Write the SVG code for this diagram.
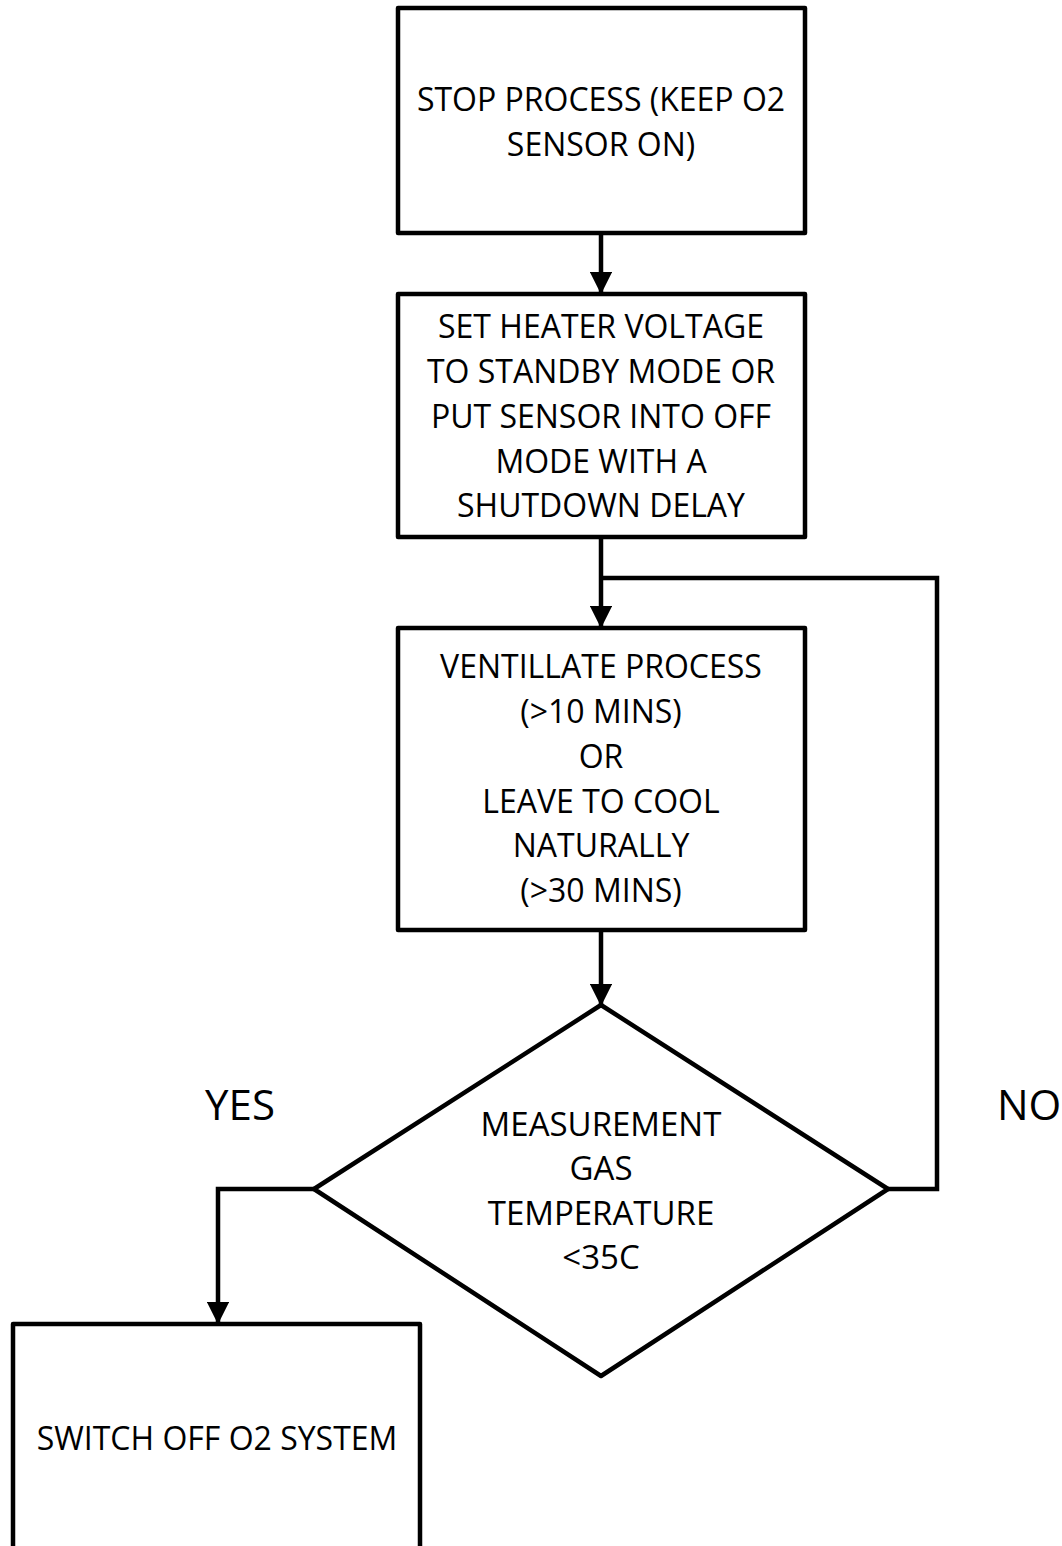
<svg xmlns="http://www.w3.org/2000/svg" width="1062" height="1546" viewBox="0 0 1062 1546">
<style>
.box{fill:#fff;stroke:#000;stroke-width:4.5;stroke-linejoin:round}
.ln{fill:none;stroke:#000;stroke-width:4.5}
text{font-family:"Open Sans","Liberation Sans",sans-serif;font-size:32px;fill:#000;text-anchor:middle}
.d{font-size:33px}
.lbl{font-size:42px}
</style>
<defs>
<marker id="ah" viewBox="0 0 10 10" refX="9" refY="5" markerWidth="5" markerHeight="5" markerUnits="strokeWidth" orient="auto">
<path d="M0,0 L10,5 L0,10 z" fill="#000"/>
</marker>
</defs>
<rect width="1062" height="1546" fill="#fff"/>
<g id="connectors">
<line class="ln" x1="601" y1="233" x2="601" y2="292" marker-end="url(#ah)"/>
<line class="ln" x1="601" y1="537" x2="601" y2="626" marker-end="url(#ah)"/>
<polyline class="ln" points="888,1189 937,1189 937,578 601,578"/>
<line class="ln" x1="601" y1="930" x2="601" y2="1004" marker-end="url(#ah)"/>
<polyline class="ln" points="314,1189 218,1189 218,1322" marker-end="url(#ah)"/>
</g>
<g id="n1">
<rect class="box" x="398" y="8" width="407" height="225"/>
<text x="601" y="111">STOP PROCESS (KEEP O2</text>
<text x="601" y="156">SENSOR ON)</text>
</g>
<g id="n2">
<rect class="box" x="398" y="294" width="407" height="243"/>
<text x="601" y="338">SET HEATER VOLTAGE</text>
<text x="601" y="383">TO STANDBY MODE OR</text>
<text x="601" y="428">PUT SENSOR INTO OFF</text>
<text x="601" y="473">MODE WITH A</text>
<text x="601" y="517">SHUTDOWN DELAY</text>
</g>
<g id="n3">
<rect class="box" x="398" y="628" width="407" height="302"/>
<text x="601" y="678">VENTILLATE PROCESS</text>
<text x="601" y="723">(&gt;10 MINS)</text>
<text x="601" y="768">OR</text>
<text x="601" y="813">LEAVE TO COOL</text>
<text x="601" y="857">NATURALLY</text>
<text x="601" y="902">(&gt;30 MINS)</text>
</g>
<g id="n4">
<polygon class="box" points="601,1005 888,1189 601,1376 314,1189"/>
<text class="d" x="601" y="1136">MEASUREMENT</text>
<text class="d" x="601" y="1180">GAS</text>
<text class="d" x="601" y="1225">TEMPERATURE</text>
<text class="d" x="601" y="1269">&lt;35C</text>
</g>
<g id="n5">
<rect class="box" x="13" y="1324" width="407" height="240"/>
<text x="217" y="1450">SWITCH OFF O2 SYSTEM</text>
</g>
<g id="labels">
<text class="lbl" x="240" y="1120">YES</text>
<text class="lbl" x="997" y="1120" style="text-anchor:start">NO</text>
</g>
</svg>
